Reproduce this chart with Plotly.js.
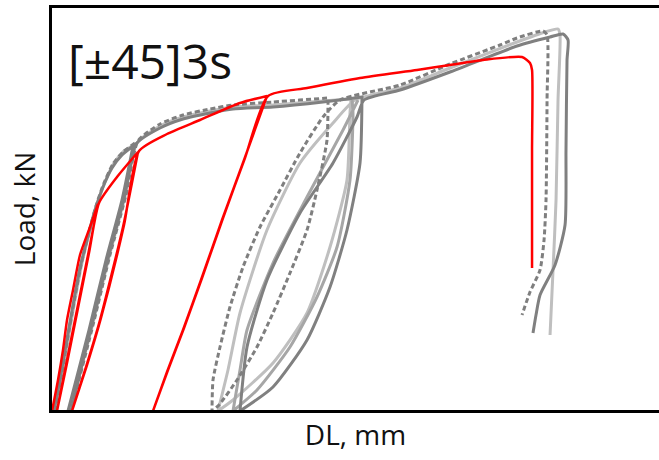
<!DOCTYPE html>
<html>
<head>
<meta charset="utf-8">
<script src="https://cdn.plot.ly/plotly-3.0.1.min.js"></script>
<style>html,body{margin:0;padding:0;background:#fff;}#chart{width:659px;height:460px;}</style>
</head>
<body>
<div id="chart"></div>
<script>
// Each reversal point (end of loading / end of unloading) is recorded twice.
// Specimen tested with cyclic loading (red)
const redX = [0.017,0.117,0.2,0.267,0.367,0.483,0.65,0.783,0.783,0.617,0.433,0.25,0.1,0.1,0.267,0.45,0.633,0.8,1.1,1.45,1.45,1.2,0.817,0.583,0.35,0.35,0.6,0.833,1.217,1.467,1.933,2.483,3.15,3.6,3.6,3.217,2.85,2.5,2.2,1.933,1.7,1.7,1.95,2.217,2.517,2.867,3.233,3.617,4.267,5.15,6.1,6.65,7.2,7.85,7.983,8.017,8.017,8.017];
const redY = [0,3.1,6.1,9.1,12.1,15.6,18.4,20.7,20.7,15.6,10.1,4.6,0,0,4.8,10.3,15.8,20.8,23.4,25.9,25.9,18.4,9.1,4.4,0,0,4.6,9.3,18.6,26.0,27.7,29.1,30.8,31.5,31.5,25.1,19.1,13.1,8.1,3.9,0,0,4.1,8.3,13.3,19.3,25.3,31.5,32.3,33.3,34.1,34.6,35.1,35.4,34.8,34.1,26.1,14.3];

// Dark grey solid specimen
const darkX = [0.05,0.15,0.25,0.367,0.483,0.6,0.733,0.867,1.017,1.183,1.367,1.367,1.183,0.917,0.633,0.283,0.283,0.667,0.95,1.217,1.417,1.817,2.2,2.65,3.033,3.7,4.533,5.183,5.183,5.15,4.933,4.65,4.267,3.7,3.15,3.15,3.267,3.6,4.15,4.7,5.1,5.217,5.817,6.65,7.767,8.317,8.533,8.617,8.6,8.583,8.567,8.4,8.15,8.083,8.033];
const darkY = [0,3.1,6.6,10.6,14.3,17.1,20.1,22.4,24.3,25.6,26.5,26.5,21.1,15.1,8.1,0,0,8.3,15.3,21.3,26.7,28.3,29.2,29.8,30.2,30.4,30.9,31.4,31.4,24.8,18.1,12.4,7.1,2.4,0,0,6.4,13.1,19.8,24.8,29.4,31.1,32.1,33.9,36.5,37.4,37.7,37.1,35.1,26.1,18.6,14.6,11.6,9.6,7.8];

// Dark grey dashed specimen
const dashX = [0.067,0.167,0.267,0.383,0.5,0.617,0.75,0.883,1.033,1.2,1.4,1.4,1.217,0.95,0.667,0.333,0.333,0.7,0.983,1.25,1.45,1.817,2.2,2.65,3.033,3.7,4.617,4.617,4.6,4.433,4.267,3.983,3.7,3.433,3.1,2.8,2.683,2.683,2.7,2.817,2.983,3.2,3.483,3.817,4.15,4.533,4.817,5.817,6.65,7.483,7.767,8.2,8.267,8.267,8.25,8.217,8.15,7.983,7.85];
const dashY = [0,3.3,6.9,10.9,14.6,17.5,20.5,22.8,24.7,25.9,26.8,26.8,21.4,15.4,8.4,0,0,8.6,15.6,21.6,27.0,28.7,29.6,30.2,30.6,30.9,31.3,31.3,27.1,22.1,18.1,13.8,9.8,6.4,3.1,0.6,0,0,3.1,6.4,10.4,14.4,18.4,22.1,25.8,29.4,31.1,32.6,34.7,36.6,37.3,38.0,37.6,31.1,21.1,17.1,14.1,11.9,9.6];

// Light grey specimen
const lightX = [0.083,0.183,0.283,0.4,0.517,0.633,0.767,0.9,1.05,1.217,1.383,1.383,1.2,0.933,0.65,0.317,0.317,0.683,0.967,1.233,1.433,1.817,2.2,2.65,3.033,3.7,4.533,5.0,5.0,4.983,4.933,4.65,4.267,3.7,3.033,2.783,2.783,2.95,3.15,3.6,4.15,4.7,5.067,5.817,6.65,7.767,8.233,8.45,8.483,8.45,8.417,8.367,8.317];
const lightY = [0,3.4,7.1,11.1,14.8,17.7,20.6,22.9,24.8,26.0,26.6,26.6,21.2,15.2,8.2,0,0,8.4,15.4,21.4,26.8,28.5,29.4,30.0,30.4,30.6,31.0,31.2,31.2,29.8,23.1,16.4,9.8,4.8,1.1,0,0,4.1,9.8,18.1,24.8,28.8,31.1,32.3,34.3,36.9,37.9,38.2,37.6,31.1,21.1,14.1,7.6];

// Extra unload/reload cycle (medium grey)
const midX = [5.017,5.033,4.983,4.767,4.433,3.983,3.433,3.033,3.033,3.15,3.267,3.7,4.267,4.867,5.117];
const midY = [31.1,29.8,23.1,16.4,11.4,6.4,2.1,0,0,4.1,8.1,14.8,21.4,28.1,31.1];

function lineStyle(color, width, dash) {
  const s = {color: color, width: width, shape: 'spline', smoothing: 0.6, simplify: false};
  if (dash) s.dash = dash;
  return s;
}
const traces = [
  {x: lightX, y: lightY, mode: 'lines', line: lineStyle('#bfbfbf', 3)},
  {x: midX, y: midY, mode: 'lines', line: lineStyle('#a6a6a6', 3)},
  {x: darkX, y: darkY, mode: 'lines', line: lineStyle('#808080', 3)},
  {x: dashX, y: dashY, mode: 'lines', line: lineStyle('#7f7f7f', 3, '5px,3px')},
  {x: redX, y: redY, mode: 'lines', line: lineStyle('#ff0000', 2.5)}
];

const layout = {
  width: 659, height: 460,
  margin: {l: 52, r: 0, t: 8, b: 50, pad: 0},
  showlegend: false,
  paper_bgcolor: '#ffffff', plot_bgcolor: '#ffffff',
  font: {family: 'Open Sans, sans-serif', color: '#111111'},
  xaxis: {
    range: [0.0167, 10.133], showgrid: false, zeroline: false,
    showline: true, mirror: true, linecolor: '#000000', linewidth: 3,
    ticks: '', showticklabels: false,
    title: {text: 'DL, mm', font: {size: 28, color: '#111111'}, standoff: 14}
  },
  yaxis: {
    range: [0.1, 40.3], showgrid: false, zeroline: false,
    showline: true, linecolor: '#000000', linewidth: 3,
    ticks: '', showticklabels: false,
    title: {text: 'Load, kN', font: {size: 28, color: '#111111'}, standoff: 6}
  },
  annotations: [{
    text: '[±45]3s', xref: 'paper', yref: 'paper', x: 0.023, y: 0.87,
    xanchor: 'left', yanchor: 'middle', showarrow: false,
    font: {size: 48, color: '#111111', family: 'Open Sans, sans-serif'}
  }]
};

Plotly.newPlot('chart', traces, layout, {displayModeBar: false, staticPlot: true});
</script>
</body>
</html>
